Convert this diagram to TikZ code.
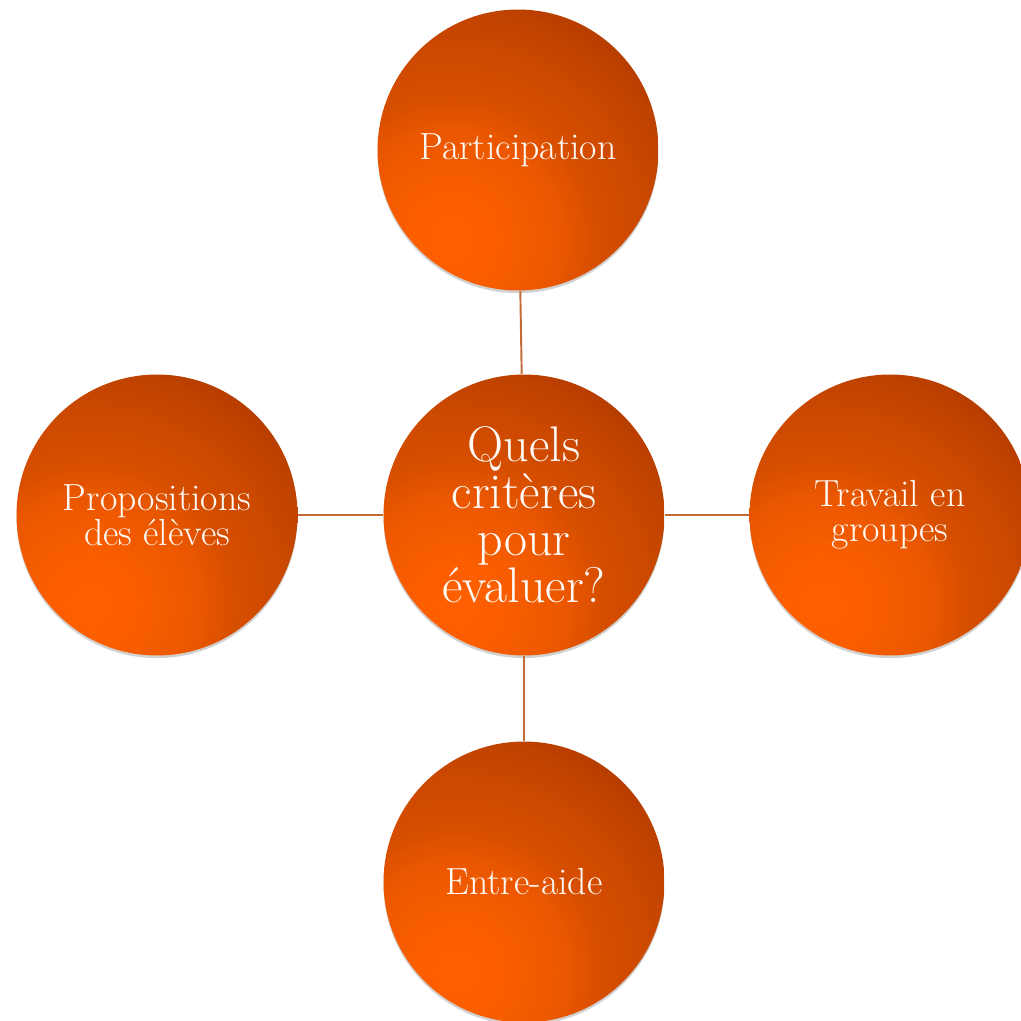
\documentclass[tikz,border=0pt]{standalone}
\usetikzlibrary{shadows}

\definecolor{orbhi}{HTML}{FF5F00}
\definecolor{orblo}{HTML}{B03A00}
\definecolor{linkcol}{HTML}{C46A36}

% glow centred at the origin, 25bp = radius of the shaded circle
\pgfdeclareradialshading{orbglow}{\pgfpointorigin}{%
  color(0bp)=(orbhi);
  color(3.6bp)=(rgb,255:red,252;green,94;blue,0);
  color(9.8bp)=(rgb,255:red,234;green,87;blue,0);
  color(13bp)=(rgb,255:red,214;green,78;blue,0);
  color(17bp)=(rgb,255:red,204;green,73;blue,0);
  color(20.5bp)=(rgb,255:red,192;green,67;blue,0);
  color(22.3bp)=(rgb,255:red,184;green,62;blue,0);
  color(25bp)=(orblo); color(50bp)=(orblo)}

\tikzset{
  orb/.style={circle, minimum size=5.62cm, inner sep=0pt,
    text=white!96!orange, align=center, font=\fontsize{21.5}{20}\selectfont,
    drop shadow={shadow xshift=0pt, shadow yshift=-1.5pt, opacity=.3, fill=black!60},
    path picture={
      \shade[shading=orbglow] ([shift={(-1.34cm,-1.8cm)}]path picture bounding box.center) circle (5.6cm);
    }},
  hub/.style={orb, font=\fontsize{28.5}{26.7}\selectfont},
  link/.style={draw=linkcol, line width=1.1pt}
}

\begin{document}
\begin{tikzpicture}[x=0.02cm, y=0.02cm]

	\useasboundingbox (0,0) rectangle (1021,-1021);

	\node[hub] (criteres) at (524,-515) {Quels\\crit\`eres\\pour\\\'evaluer?};

	\node[orb] (participation) at (518,-150) {Participation};
	\node[orb] (propositions)  at (157,-515) {Propositions\\des \'el\`eves};
	\node[orb] (travail)       at (890,-515) {Travail en\\groupes};
	\node[orb] (entraide)      at (524,-882) {Entre-aide};

	\draw[link] (criteres) -- (participation);
	\draw[link] (criteres) -- (propositions);
	\draw[link] (criteres) -- (travail);
	\draw[link] (criteres) -- (entraide);

\end{tikzpicture}
\end{document}
